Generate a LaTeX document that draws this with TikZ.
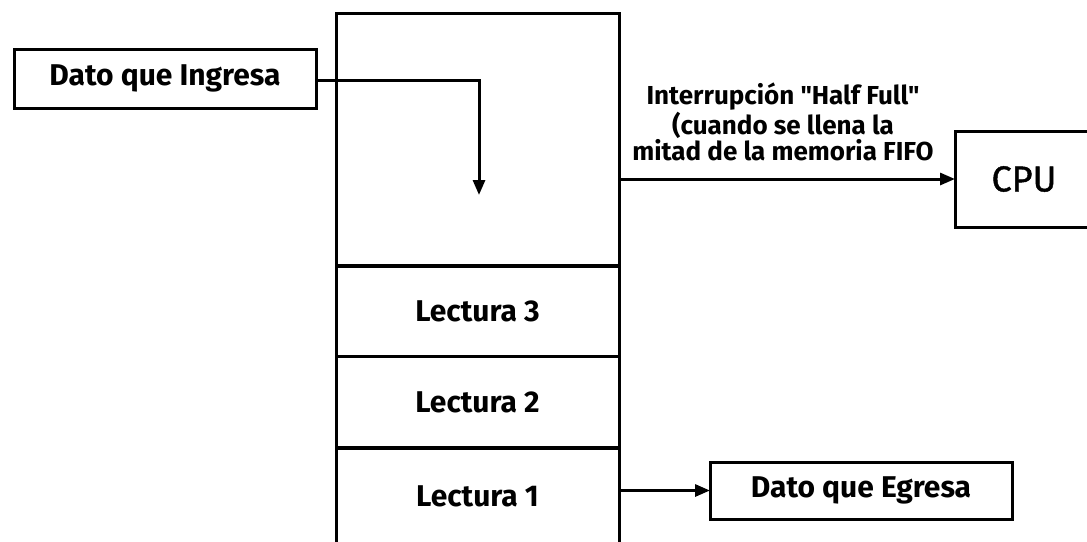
\documentclass[tikz,border=0pt]{standalone}
\usepackage{fontspec}
\setmainfont{Fira Sans}[Ligatures=TeXOff]
\newfontfamily\cpufont{Fira Sans}[FakeBold=1.2]
\usetikzlibrary{arrows.meta}
\begin{document}
\begin{tikzpicture}[x=1pt,y=-1pt,
  every node/.style={inner sep=0pt,outer sep=0pt},
  box/.style={draw,line width=3pt,font=\fontsize{30}{32}\selectfont\bfseries},
  cell/.style={box,minimum width=283pt},
  conn/.style={line width=3pt,-{Triangle[length=15pt,width=12pt]}}]
\useasboundingbox (0,0) rectangle (1087,541);
\clip (0,0) rectangle (1087,541);
% input box
\node[box,minimum width=302pt,minimum height=59pt] (in) at (165,78.5) {Dato que Ingresa};
% FIFO memory column
\node[cell,minimum height=252pt] (top) at (477.5,139) {};
\node[cell,minimum height=90pt] (l3) at (477.5,311) {Lectura 3};
\node[cell,minimum height=92pt] (l2) at (477.5,402) {Lectura 2};
\node[cell,minimum height=98pt] (l1) at (477.5,496) {Lectura 1};
% CPU and output
\node[box,minimum width=138pt,minimum height=96pt,font=\cpufont\fontsize{36}{38}\selectfont] (cpu) at (1024,179) {CPU};
\node[box,minimum width=302pt,minimum height=57pt] (out) at (861,490.5) {Dato que Egresa};
\coordinate (drop) at (479,195);
% connectors
\draw[conn] (in.east |- 0,80) -| (drop);
\draw[conn] (top.east |- cpu.west) -- (cpu.west);
\draw[conn] (l1.east |- out.west) -- (out.west);
\node[align=center,font=\fontsize{26}{22.5}\selectfont\bfseries] (lbl) at (783,122)
  {Interrupción "Half Full"\\(cuando se llena la\\mitad de la memoria FIFO};
\end{tikzpicture}
\end{document}
